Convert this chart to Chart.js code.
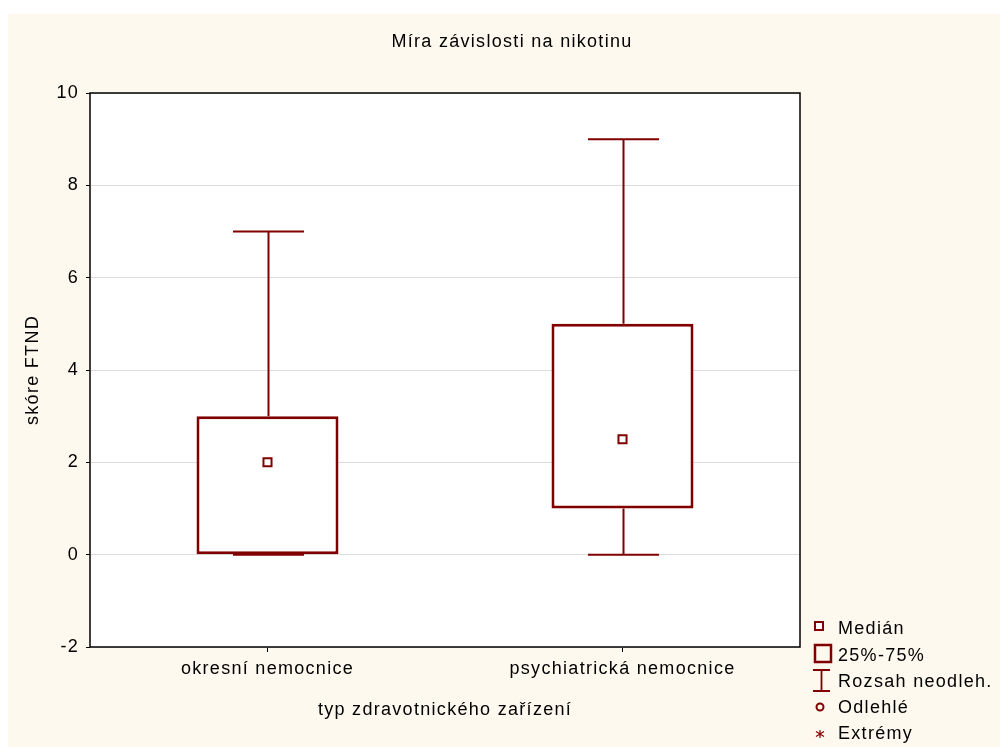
<!DOCTYPE html>
<html>
<head>
<meta charset="utf-8">
<script src="https://cdn.jsdelivr.net/npm/chart.js@4/dist/chart.umd.min.js"></script>
<style>
  html, body { margin: 0; padding: 0; background: #ffffff; }
  #wrap { width: 1000px; height: 747px; }
</style>
</head>
<body>
<div id="wrap"><canvas id="c" width="1000" height="747"></canvas></div>
<script>
// Box-plot summary per facility type (FTND score)
const categories = ['okresní nemocnice', 'psychiatrická nemocnice'];
const whiskerLow = [0, 0];
const quartile1 = [0, 1];
const medians = [2, 2.5];
const quartile3 = [3, 5];
const whiskerHigh = [7, 9];

const yMin = -2, yMax = 10, yStep = 2;

const titleText = 'Míra závislosti na nikotinu';
const xTitleText = 'typ zdravotnického zařízení';
const yTitleText = 'skóre FTND';
const legendLabels = ['Medián', '25%-75%', 'Rozsah neodleh.', 'Odlehlé', 'Extrémy'];

const RED = '#800000';
const CREAM = '#FEF9EE';
const FONT = '18px "Liberation Sans", Arial, sans-serif';
const SPACING = '1.3px';

function applySpacing(ctx) {
  if ('letterSpacing' in ctx) ctx.letterSpacing = SPACING;
}

const framePlugin = {
  id: 'frame',
  beforeLayout(chart) { applySpacing(chart.ctx); },
  beforeDraw(chart) {
    const ctx = chart.ctx, a = chart.chartArea;
    applySpacing(ctx);
    ctx.save();
    ctx.fillStyle = '#ffffff';
    ctx.fillRect(0, 0, chart.width, chart.height);
    ctx.fillStyle = CREAM;
    ctx.fillRect(8, 14, chart.width - 8, chart.height - 14);
    ctx.fillStyle = '#ffffff';
    ctx.fillRect(a.left, a.top, a.right - a.left, a.bottom - a.top);
    ctx.restore();
  },
  beforeDatasetsDraw(chart) {
    // whiskers with caps, under the boxes
    const ctx = chart.ctx;
    const xs = chart.scales.x, ys = chart.scales.y;
    const boxes = chart.getDatasetMeta(1).data;
    ctx.save();
    ctx.strokeStyle = RED;
    ctx.lineWidth = 2;
    categories.forEach((c, i) => {
      const x = Math.round(xs.getPixelForValue(i)) + 0.5;
      const half = boxes[i].width / 4;
      const yLo = ys.getPixelForValue(whiskerLow[i]);
      const yQ1 = ys.getPixelForValue(quartile1[i]);
      const yQ3 = ys.getPixelForValue(quartile3[i]);
      const yHi = ys.getPixelForValue(whiskerHigh[i]);
      ctx.beginPath();
      ctx.moveTo(x, yHi); ctx.lineTo(x, yQ3);
      ctx.moveTo(x, yQ1); ctx.lineTo(x, yLo);
      ctx.moveTo(x - half, yHi); ctx.lineTo(x + half, yHi);
      ctx.moveTo(x - half, yLo); ctx.lineTo(x + half, yLo);
      ctx.stroke();
    });
    ctx.restore();
  },
  afterDraw(chart) {
    const ctx = chart.ctx, a = chart.chartArea;
    ctx.save();
    applySpacing(ctx);
    // plot frame
    ctx.strokeStyle = '#000';
    ctx.lineWidth = 1.5;
    ctx.strokeRect(a.left, a.top, a.right - a.left, a.bottom - a.top);

    ctx.fillStyle = '#000';
    ctx.font = FONT;
    ctx.textBaseline = 'alphabetic';
    // title
    ctx.textAlign = 'center';
    ctx.fillText(titleText, 512, 47);
    // x axis title
    ctx.fillText(xTitleText, (a.left + a.right) / 2, 715);
    // y axis title
    ctx.save();
    ctx.translate(38, (a.top + a.bottom) / 2);
    ctx.rotate(-Math.PI / 2);
    ctx.fillText(yTitleText, 0, 0);
    ctx.restore();

    // legend
    const tx = 838, cx = 820;
    const base = [634, 661, 687, 713, 739];
    ctx.textAlign = 'left';
    legendLabels.forEach((t, i) => ctx.fillText(t, tx, base[i]));
    ctx.strokeStyle = RED;
    // median marker
    ctx.lineWidth = 2;
    ctx.fillStyle = '#fff';
    ctx.fillRect(815, 622, 8, 8);
    ctx.strokeRect(815, 622, 8, 8);
    // box
    ctx.lineWidth = 2.5;
    ctx.strokeRect(815, 645, 16, 17);
    // range
    ctx.lineWidth = 1.8;
    ctx.beginPath();
    ctx.moveTo(813, 670); ctx.lineTo(830, 670);
    ctx.moveTo(821.5, 670); ctx.lineTo(821.5, 691);
    ctx.moveTo(813, 691); ctx.lineTo(830, 691);
    ctx.stroke();
    // outlier
    ctx.lineWidth = 2;
    ctx.beginPath();
    ctx.arc(820, 707, 3.5, 0, Math.PI * 2);
    ctx.stroke();
    // extreme
    ctx.lineWidth = 1.2;
    ctx.beginPath();
    const ey = 734, r = 4;
    ctx.moveTo(cx, ey - r); ctx.lineTo(cx, ey + r);
    ctx.moveTo(cx - r, ey - r * 0.6); ctx.lineTo(cx + r, ey + r * 0.6);
    ctx.moveTo(cx - r, ey + r * 0.6); ctx.lineTo(cx + r, ey - r * 0.6);
    ctx.stroke();
    ctx.restore();
  }
};

const boxRanges = categories.map((c, i) => [quartile1[i], quartile3[i]]);

new Chart(document.getElementById('c'), {
  type: 'bar',
  data: {
    labels: categories,
    datasets: [
      {
        type: 'line',
        label: 'Medián',
        data: medians,
        showLine: false,
        pointStyle: 'rect',
        pointRadius: 5.7,
        pointBorderWidth: 2,
        pointBackgroundColor: '#ffffff',
        pointBorderColor: RED,
        order: 0
      },
      {
        type: 'bar',
        label: '25%-75%',
        data: boxRanges,
        backgroundColor: '#ffffff',
        borderColor: RED,
        borderWidth: 3,
        borderSkipped: false,
        categoryPercentage: 1,
        barPercentage: 0.4,
        order: 1
      }
    ]
  },
  options: {
    responsive: false,
    animation: false,
    devicePixelRatio: 1,
    layout: { padding: { left: 0, top: 93, right: 200, bottom: 0 } },
    plugins: {
      legend: { display: false },
      tooltip: { enabled: false },
      title: { display: false }
    },
    scales: {
      x: {
        offset: true,
        afterFit(s) { s.height = 100; },
        border: { display: false },
        grid: { drawOnChartArea: false, drawTicks: true, tickLength: 5, tickColor: '#000', offset: false },
        ticks: { color: '#000', font: { family: '"Liberation Sans", Arial, sans-serif', size: 18 }, padding: 6, maxRotation: 0 }
      },
      y: {
        min: yMin,
        max: yMax,
        afterFit(s) { s.width = 90; },
        border: { display: false },
        grid: { color: '#dcdcdc', lineWidth: 1, tickLength: 4, tickColor: '#000' },
        ticks: { stepSize: yStep, color: '#000', font: { family: '"Liberation Sans", Arial, sans-serif', size: 18 }, padding: 7 }
      }
    }
  },
  plugins: [framePlugin]
});
</script>
</body>
</html>
